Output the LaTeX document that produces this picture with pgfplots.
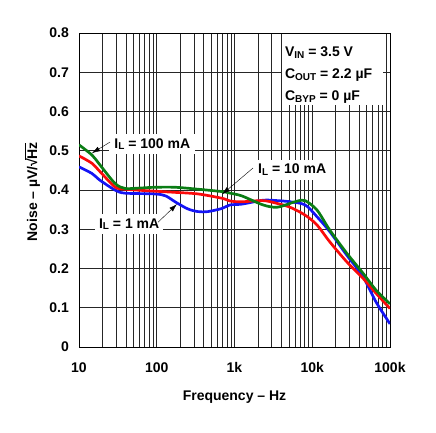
\documentclass[border=0pt]{standalone}
\usepackage{fontspec}
\setmainfont{Liberation Sans}
\usepackage{pgfplots}
\pgfplotsset{compat=1.18}
\usetikzlibrary{arrows.meta}

\definecolor{tiblue}{RGB}{20,20,245}
\definecolor{tired}{RGB}{250,10,10}
\definecolor{tigreen}{RGB}{10,125,20}

\newcommand\lbl{\fontsize{14}{16}\selectfont\bfseries}
\newcommand\sub[1]{\raisebox{-0.25ex}{\fontsize{10}{10}\selectfont #1}}
\newcommand\sqrtHz{√\kern-0.08em\vbox{\hrule height 0.07em\kern 0.07em\hbox{Hz}}}

\begin{document}
\begin{tikzpicture}
\begin{axis}[
    at={(0,0)}, anchor=south west,
    scale only axis,
    width=311pt, height=314pt,
    xmode=log,
    xmin=10, xmax=100000,
    ymin=0, ymax=0.8,
    xtick={10,100,1000,10000,100000},
    xticklabels={10,100,1k,10k,100k},
    ytick={0,0.1,0.2,0.3,0.4,0.5,0.6,0.7,0.8},
    yticklabels={0,0.1,0.2,0.3,0.4,0.5,0.6,0.7,0.8},
    /pgf/number format/assume math mode=true,
    tick label style={font=\lbl},
    xticklabel style={anchor=base, inner sep=0pt, yshift=-25pt},
    yticklabel style={anchor=east, inner sep=0pt, xshift=-10pt},
    major tick length=0pt, minor tick length=0pt,
    grid=both,
    major grid style={black!85, line width=0.6pt},
    minor grid style={black!85, line width=0.6pt},
    axis line style={black, line width=0.8pt},
]
% I_L = 1 mA
\addplot[tiblue, line width=2.7pt, smooth, tension=0.5] coordinates {
(10,0.459) (14.7,0.442) (18.6,0.425) (29,0.400) (39,0.392) (95,0.390)
(130,0.385) (172,0.370) (250,0.352) (339,0.345) (455,0.345) (690,0.353)
(875,0.362) (1240,0.364) (2330,0.374) (3500,0.373) (5200,0.370) (8100,0.362)
(11500,0.332) (16800,0.294) (27800,0.234) (45000,0.179) (66000,0.115) (100000,0.059)
};
% I_L = 10 mA
\addplot[tired, line width=2.7pt, smooth, tension=0.5] coordinates {
(10,0.487) (14.7,0.468) (18.6,0.447) (29,0.408) (39,0.402) (95,0.397)
(172,0.394) (339,0.390) (690,0.379) (875,0.372) (1240,0.370) (2330,0.373)
(3500,0.366) (5200,0.356) (8100,0.336) (11500,0.311) (16800,0.268)
(27800,0.217) (45000,0.175) (66000,0.137) (100000,0.098)
};
% I_L = 100 mA
\addplot[tigreen, line width=2.7pt, smooth, tension=0.5] coordinates {
(10,0.515) (14.7,0.489) (18.6,0.464) (29,0.417) (39,0.404) (60,0.405)
(95,0.407) (172,0.407) (339,0.402) (690,0.396) (875,0.392) (1240,0.385)
(2330,0.362) (3500,0.356) (5200,0.366) (6500,0.372) (8100,0.373)
(11500,0.349) (16800,0.298) (27800,0.239) (45000,0.188) (66000,0.145) (100000,0.110)
};

% condition box
\fill[white] (rel axis cs:0.653,0.771) rectangle (rel axis cs:0.977,0.997);
\node[anchor=base west, inner sep=0pt, font=\lbl] at (rel axis cs:0.662,0.924) {V\sub{IN} = 3.5 V};
\node[anchor=base west, inner sep=0pt, font=\lbl] at (rel axis cs:0.662,0.854) {C\sub{OUT} = 2.2 µF};
\node[anchor=base west, inner sep=0pt, font=\lbl] at (rel axis cs:0.662,0.784) {C\sub{BYP} = 0 µF};

% curve labels
\node[anchor=base west, fill=white, inner xsep=5pt, inner ysep=4pt, font=\lbl] at (axis cs:24.5,0.507) {I\sub{L} = 100 mA};
\draw[-{Latex[length=8pt,width=5pt]}, line width=0.4pt] (axis cs:25,0.522) -- (axis cs:14.7,0.494);
\node[anchor=base west, fill=white, inner xsep=4pt, inner ysep=4pt, font=\lbl] at (axis cs:1780,0.441) {I\sub{L} = 10 mA};
\draw[-{Latex[length=8pt,width=5pt]}, line width=0.4pt] (axis cs:1730,0.456) -- (axis cs:692,0.389);
\node[anchor=base west, fill=white, inner xsep=4pt, inner ysep=4pt, font=\lbl] at (axis cs:16,0.303) {I\sub{L} = 1 mA};
\draw[-{Latex[length=8pt,width=5pt]}, line width=0.4pt] (axis cs:104,0.318) -- (axis cs:182,0.364);
\end{axis}
\node[anchor=base, font=\lbl] at (155.5pt,-53pt) {Frequency – Hz};
\node[anchor=base, rotate=90, font=\lbl] at (-42pt,155pt) {Noise – µV/\sqrtHz};
\pgfresetboundingbox
\path[use as bounding box] (-79pt,-85pt) rectangle (357pt,347pt);
\end{tikzpicture}
\end{document}
